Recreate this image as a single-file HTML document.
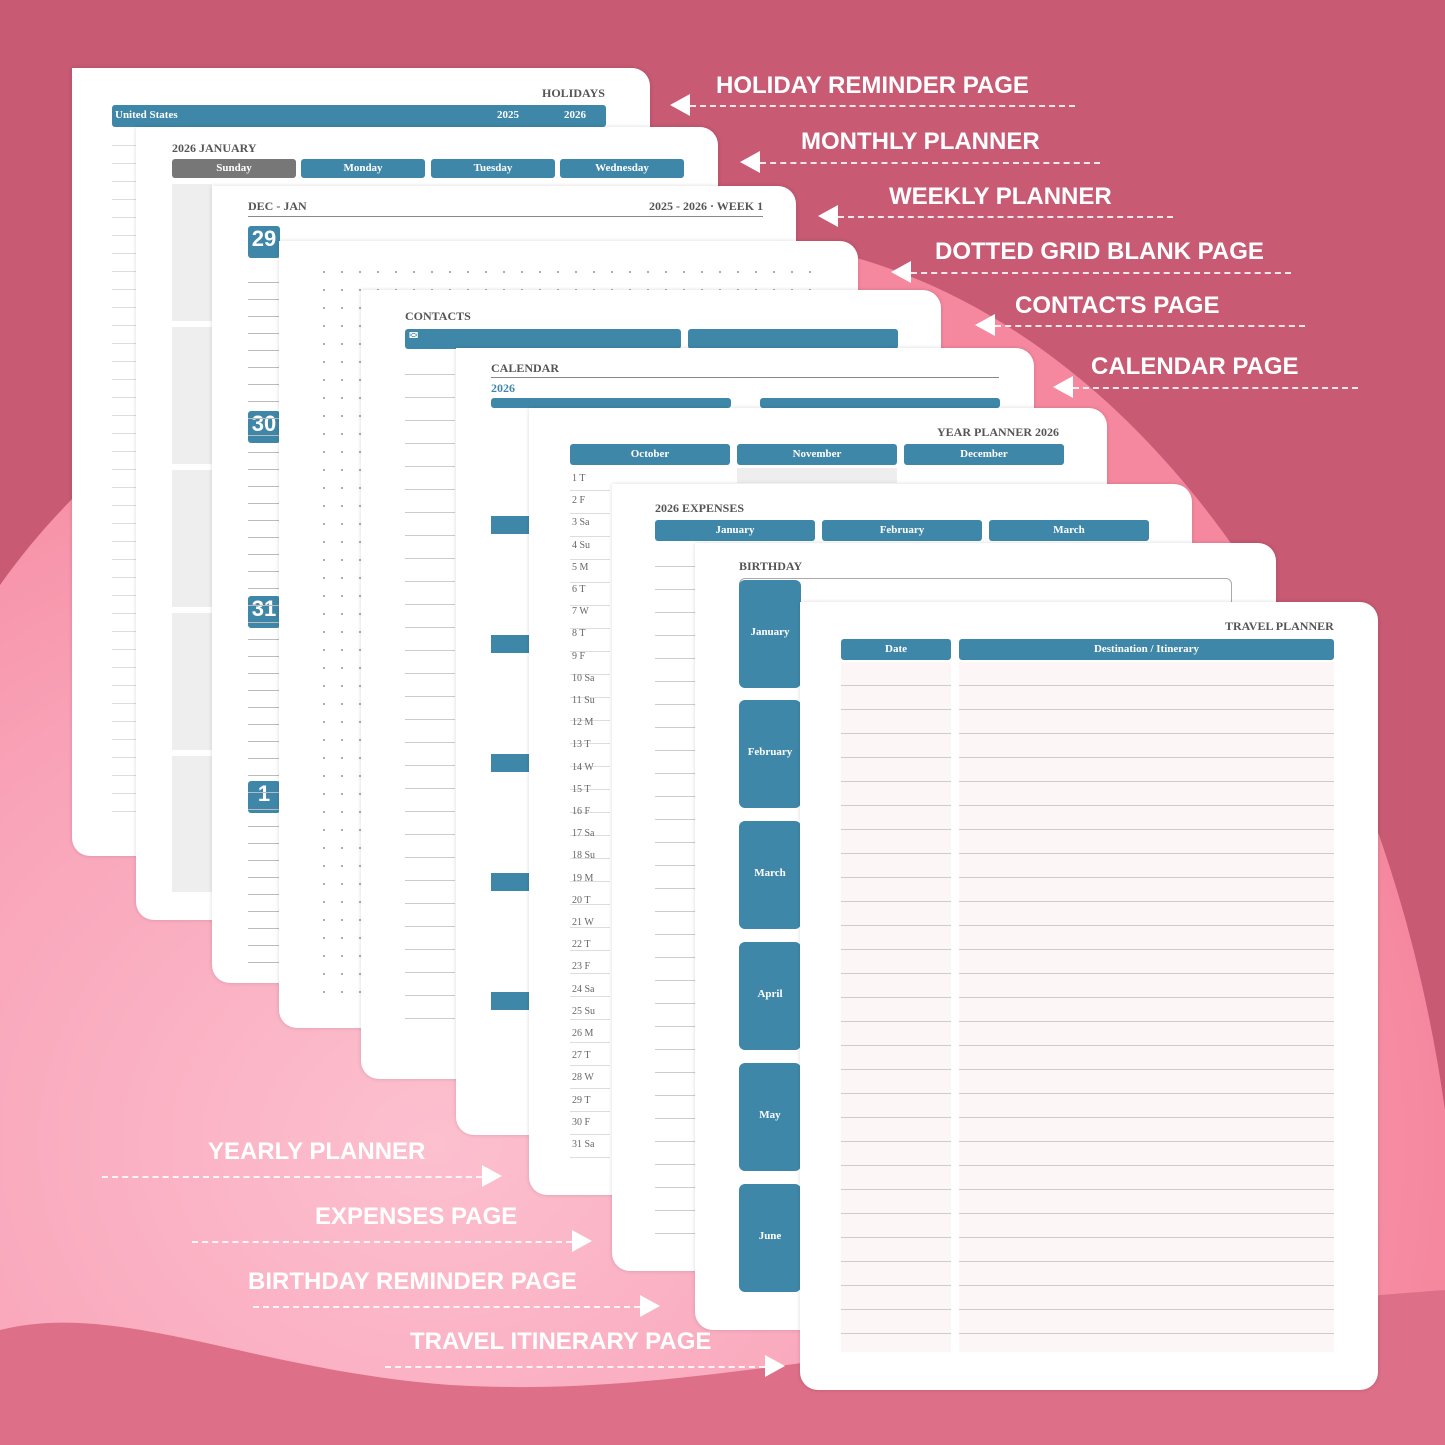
<!DOCTYPE html>
<html><head><meta charset="utf-8"><style>
*{margin:0;padding:0;box-sizing:border-box}
body{width:1445px;height:1445px;position:relative;overflow:hidden;background:#c85a73;font-family:"Liberation Serif",serif}
.pg{position:absolute;background:#fff;border-radius:0 18px 18px 18px;box-shadow:0 0 4px rgba(0,0,0,.15)}
.t{position:absolute;font-weight:bold;color:#555;font-size:12px}
.h{position:absolute;background:#3f87a8;color:#fff;font-weight:bold;font-size:11px;text-align:center;border-radius:3px}
.lines{position:absolute;background:repeating-linear-gradient(to bottom,transparent 0 22px,#ccc 22px 23px)}
.lab{position:absolute;color:#fff;font-family:"Liberation Sans",sans-serif;font-weight:bold;font-size:24px;white-space:nowrap}
.dl{position:absolute;border-top:2px dashed rgba(255,255,255,.85);height:0}
.al{position:absolute;width:0;height:0;border-top:11px solid transparent;border-bottom:11px solid transparent;border-right:20px solid #fff}
.ar{position:absolute;width:0;height:0;border-top:11px solid transparent;border-bottom:11px solid transparent;border-left:20px solid #fff}
</style></head><body>
<svg width="1445" height="1445" style="position:absolute;left:0;top:0">
<defs><radialGradient id="g" cx="0.3" cy="0.75" r="0.7"><stop offset="0" stop-color="#fcc0cf"/><stop offset="0.6" stop-color="#f9a2b7"/><stop offset="1" stop-color="#f5889f"/></radialGradient></defs>
<path d="M0,585 C180,330 550,200 800,245 C1120,300 1380,650 1445,1110 L1445,1445 L0,1445 Z" fill="url(#g)"/>
<path d="M0,1330 C120,1300 250,1370 450,1385 C700,1400 900,1330 1445,1290 L1445,1445 L0,1445 Z" fill="#dd6f88"/>
</svg>

<!-- 1 holidays -->
<div class="pg" style="left:72px;top:68px;width:578px;height:788px">
<div class="t" style="left:470px;top:18px">HOLIDAYS</div>
<div class="h" style="left:40px;top:37px;width:494px;height:22px;text-align:left;padding:4px 3px">United States<span style="position:absolute;left:385px">2025</span><span style="position:absolute;left:452px">2026</span></div>
<div class="lines" style="left:40px;top:60px;width:24px;height:690px;background:repeating-linear-gradient(to bottom,transparent 0 17px,#ddd 17px 18px)"></div>
</div>
<!-- 2 monthly -->
<div class="pg" style="left:136px;top:127px;width:582px;height:793px">
<div class="t" style="left:36px;top:14px">2026 JANUARY</div>
<div class="h" style="left:36px;top:32px;width:124px;height:19px;background:#777;padding-top:3px">Sunday</div>
<div class="h" style="left:165px;top:32px;width:124px;height:19px;padding-top:3px">Monday</div>
<div class="h" style="left:295px;top:32px;width:124px;height:19px;padding-top:3px">Tuesday</div>
<div class="h" style="left:424px;top:32px;width:124px;height:19px;padding-top:3px">Wednesday</div>
<div style="position:absolute;left:36px;top:57px;width:40px;height:708px;background:repeating-linear-gradient(to bottom,#eee 0 137px,#fff 137px 143px)"></div>
</div>
<!-- 3 weekly -->
<div class="pg" style="left:212px;top:186px;width:584px;height:797px">
<div class="t" style="left:36px;top:13px">DEC - JAN</div>
<div class="t" style="left:437px;top:13px">2025 - 2026 · WEEK 1</div>
<div style="position:absolute;left:36px;top:30px;width:515px;border-top:1px solid #888"></div>
<div class="h" style="left:36px;top:40px;width:32px;height:32px;font-size:22px;font-family:'Liberation Sans'">29</div>
<div class="h" style="left:36px;top:225px;width:32px;height:32px;font-size:22px;font-family:'Liberation Sans'">30</div>
<div class="h" style="left:36px;top:410px;width:32px;height:32px;font-size:22px;font-family:'Liberation Sans'">31</div>
<div class="h" style="left:36px;top:595px;width:32px;height:32px;font-size:22px;font-family:'Liberation Sans'">1</div>
<div class="lines" style="left:36px;top:80px;width:32px;height:700px;background:repeating-linear-gradient(to bottom,transparent 0 16px,#bbb 16px 17px)"></div>
</div>
<!-- 4 dotted -->
<div class="pg" style="left:279px;top:241px;width:579px;height:787px">
<div style="position:absolute;left:36px;top:22px;width:510px;height:740px;background-image:radial-gradient(circle,#aaa 1px,transparent 1.3px);background-size:18px 18px"></div>
</div>
<!-- 5 contacts -->
<div class="pg" style="left:361px;top:290px;width:580px;height:789px">
<div class="t" style="left:44px;top:19px">CONTACTS</div>
<div class="h" style="left:44px;top:39px;width:276px;height:20px;text-align:left;padding-left:4px">✉</div>
<div class="h" style="left:327px;top:39px;width:210px;height:20px"></div>
<div class="lines" style="left:44px;top:62px;width:50px;height:680px"></div>
</div>
<!-- 6 calendar -->
<div class="pg" style="left:456px;top:348px;width:578px;height:787px">
<div class="t" style="left:35px;top:13px">CALENDAR</div>
<div style="position:absolute;left:35px;top:29px;width:508px;border-top:1px solid #888"></div>
<div class="t" style="left:35px;top:33px;color:#3f87a8">2026</div>
<div class="h" style="left:35px;top:50px;width:240px;height:10px"></div>
<div class="h" style="left:304px;top:50px;width:240px;height:10px"></div>
<div style="position:absolute;left:35px;top:168px;width:38px;height:580px;background:repeating-linear-gradient(to bottom,#3f87a8 0 18px,transparent 18px 119px)"></div>
</div>
<!-- 7 year planner -->
<div class="pg" style="left:529px;top:408px;width:578px;height:787px">
<div class="t" style="left:408px;top:17px">YEAR PLANNER 2026</div>
<div class="h" style="left:41px;top:36px;width:160px;height:21px;padding-top:4px">October</div>
<div class="h" style="left:208px;top:36px;width:160px;height:21px;padding-top:4px">November</div>
<div class="h" style="left:375px;top:36px;width:160px;height:21px;padding-top:4px">December</div>
<div style="position:absolute;left:208px;top:60px;width:160px;height:15px;background:#eee"></div>
<div style="position:absolute;left:41px;top:60px;width:40px;height:690px;background:repeating-linear-gradient(to bottom,#fff 0 22px,#ddd 22px 23px);font-size:10px;color:#666;line-height:22.2px;padding-left:2px">1 T<br>2 F<br>3 Sa<br>4 Su<br>5 M<br>6 T<br>7 W<br>8 T<br>9 F<br>10 Sa<br>11 Su<br>12 M<br>13 T<br>14 W<br>15 T<br>16 F<br>17 Sa<br>18 Su<br>19 M<br>20 T<br>21 W<br>22 T<br>23 F<br>24 Sa<br>25 Su<br>26 M<br>27 T<br>28 W<br>29 T<br>30 F<br>31 Sa</div>
</div>
<!-- 8 expenses -->
<div class="pg" style="left:612px;top:484px;width:580px;height:787px">
<div class="t" style="left:43px;top:17px">2026 EXPENSES</div>
<div class="h" style="left:43px;top:36px;width:160px;height:21px;padding-top:4px">January</div>
<div class="h" style="left:210px;top:36px;width:160px;height:21px;padding-top:4px">February</div>
<div class="h" style="left:377px;top:36px;width:160px;height:21px;padding-top:4px">March</div>
<div class="lines" style="left:43px;top:60px;width:40px;height:690px"></div>
</div>
<!-- 9 birthday -->
<div class="pg" style="left:695px;top:543px;width:581px;height:787px">
<div class="t" style="left:44px;top:16px">BIRTHDAY</div>
<div style="position:absolute;left:44px;top:35px;width:493px;height:30px;border:1px solid #aaa;border-radius:6px 6px 0 0"></div>
<div class="h" style="left:44px;top:37px;width:62px;height:108px;padding-top:46px;border-radius:6px">January</div>
<div class="h" style="left:44px;top:157px;width:62px;height:108px;padding-top:46px;border-radius:6px">February</div>
<div class="h" style="left:44px;top:278px;width:62px;height:108px;padding-top:46px;border-radius:6px">March</div>
<div class="h" style="left:44px;top:399px;width:62px;height:108px;padding-top:46px;border-radius:6px">April</div>
<div class="h" style="left:44px;top:520px;width:62px;height:108px;padding-top:46px;border-radius:6px">May</div>
<div class="h" style="left:44px;top:641px;width:62px;height:108px;padding-top:46px;border-radius:6px">June</div>
</div>
<!-- 10 travel -->
<div class="pg" style="left:800px;top:602px;width:578px;height:788px">
<div class="t" style="left:425px;top:17px">TRAVEL PLANNER</div>
<div class="h" style="left:41px;top:37px;width:110px;height:21px;padding-top:4px">Date</div>
<div class="h" style="left:159px;top:37px;width:375px;height:21px;padding-top:4px">Destination / Itinerary</div>
<div style="position:absolute;left:41px;top:60px;width:110px;height:690px;background:repeating-linear-gradient(to bottom,#fdf6f7 0 23px,#ccc 23px 24px)"></div>
<div style="position:absolute;left:159px;top:60px;width:375px;height:690px;background:repeating-linear-gradient(to bottom,#fdf6f7 0 23px,#ccc 23px 24px)"></div>
</div>

<!-- labels right -->
<div class="lab" style="left:716px;top:72px">HOLIDAY REMINDER PAGE</div><div class="al" style="left:670px;top:94px"></div><div class="dl" style="left:690px;top:105px;width:385px"></div>
<div class="lab" style="left:801px;top:128px">MONTHLY PLANNER</div><div class="al" style="left:740px;top:151px"></div><div class="dl" style="left:760px;top:162px;width:340px"></div>
<div class="lab" style="left:889px;top:183px">WEEKLY PLANNER</div><div class="al" style="left:818px;top:205px"></div><div class="dl" style="left:838px;top:216px;width:335px"></div>
<div class="lab" style="left:935px;top:238px">DOTTED GRID BLANK PAGE</div><div class="al" style="left:891px;top:261px"></div><div class="dl" style="left:911px;top:272px;width:380px"></div>
<div class="lab" style="left:1015px;top:292px">CONTACTS PAGE</div><div class="al" style="left:975px;top:314px"></div><div class="dl" style="left:995px;top:325px;width:310px"></div>
<div class="lab" style="left:1091px;top:353px">CALENDAR PAGE</div><div class="al" style="left:1053px;top:376px"></div><div class="dl" style="left:1073px;top:387px;width:285px"></div>
<!-- labels left -->
<div class="lab" style="left:208px;top:1138px">YEARLY PLANNER</div><div class="dl" style="left:102px;top:1176px;width:380px"></div><div class="ar" style="left:482px;top:1165px"></div>
<div class="lab" style="left:315px;top:1203px">EXPENSES PAGE</div><div class="dl" style="left:192px;top:1241px;width:380px"></div><div class="ar" style="left:572px;top:1230px"></div>
<div class="lab" style="left:248px;top:1268px">BIRTHDAY REMINDER PAGE</div><div class="dl" style="left:253px;top:1306px;width:387px"></div><div class="ar" style="left:640px;top:1295px"></div>
<div class="lab" style="left:410px;top:1328px">TRAVEL ITINERARY PAGE</div><div class="dl" style="left:385px;top:1366px;width:380px"></div><div class="ar" style="left:765px;top:1355px"></div>
</body></html>
